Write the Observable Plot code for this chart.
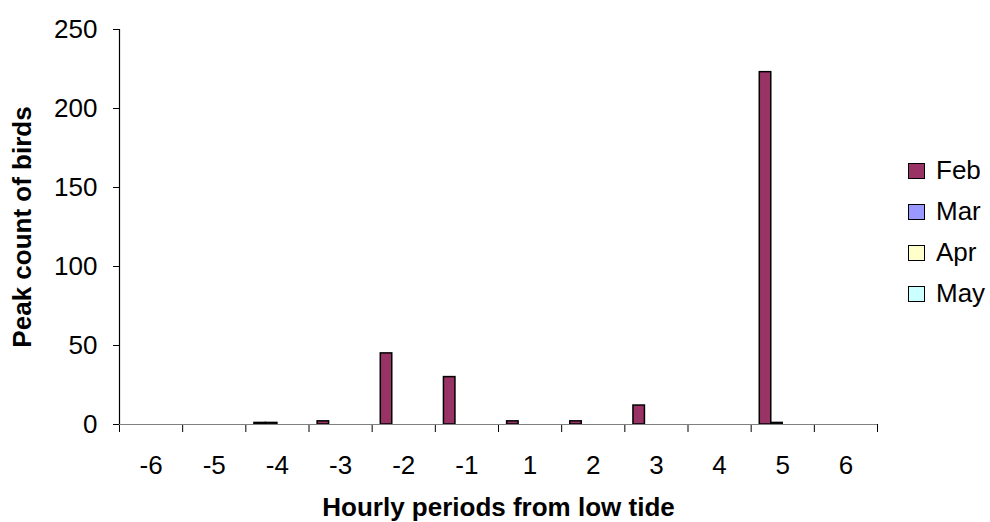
<!DOCTYPE html>
<html>
<head>
<meta charset="utf-8">
<script src="https://cdn.jsdelivr.net/npm/d3@7"></script>
<script src="https://cdn.jsdelivr.net/npm/@observablehq/plot@0.6"></script>
<style>
  body { margin: 0; background: #fff; }
  #chart { position: relative; width: 990px; height: 522px; font-family: "Liberation Sans", Arial, sans-serif; }
  #legend { position: absolute; left: 908px; top: 150px; }
  .item { display: flex; align-items: center; height: 41px; font-size: 26px; color: #000; }
  .sw { width: 17px; height: 16px; border: 1.5px solid #000; box-sizing: border-box; margin-right: 11px; }
</style>
</head>
<body>
<div id="chart"><div id="legend"></div></div>
<script>
// Hourly periods relative to low tide
const periods = ["-6", "-5", "-4", "-3", "-2", "-1", "1", "2", "3", "4", "5", "6"];
const months = ["Feb", "Mar", "Apr", "May"];
const colors = ["#993366", "#9999FF", "#FFFFCC", "#CCFFFF"];

// Peak bird counts per period, one array per month
const feb = [0, 0, 1, 2, 45, 30, 2, 2, 12, 0, 223, 0];
const mar = [0, 0, 1, 0, 0, 0, 0, 0, 0, 0, 1, 0];
const apr = [0, 0, 0, 0, 0, 0, 0, 0, 0, 0, 0, 0];
const may = [0, 0, 0, 0, 0, 0, 0, 0, 0, 0, 0, 0];
const yTicks = [0, 50, 100, 150, 200, 250];

const series = [feb, mar, apr, may];

// Grouped-bar layout: each period is one unit wide, bars separated by a 150% gap
const gap = 1.5;
const slots = months.length + gap;
const rows = periods.flatMap((p, i) =>
  series.map((vals, k) => ({ i, k, period: p, month: months[k], value: vals[i] }))
).filter(d => d.value > 0);

const chart = Plot.plot({
  width: 990,
  height: 522,
  marginLeft: 119,
  marginRight: 113,
  marginTop: 29,
  marginBottom: 98,
  style: { fontFamily: "'Liberation Sans', Arial, sans-serif", fontSize: "26px", background: "#fff" },
  x: { domain: [0, periods.length] },
  y: { domain: [0, 250] },
  color: { domain: months, range: colors },
  marks: [
    Plot.rectY(rows, {
      x1: d => d.i + (gap / 2 + d.k) / slots,
      x2: d => d.i + (gap / 2 + d.k + 1) / slots,
      y1: 0,
      y2: "value",
      fill: "month",
      stroke: "#000",
      strokeWidth: 1.5
    }),
    // category boundary ticks
    Plot.axisX(d3.range(periods.length + 1), {
      tickSize: 8, tickFormat: () => "", label: null
    }),
    // category labels, centred in each period
    Plot.axisX(d3.range(periods.length).map(i => i + 0.5), {
      tickSize: 0, tickPadding: 31, fontSize: 26,
      tickFormat: d => periods[Math.floor(d)], label: null
    }),
    Plot.axisY(yTicks, { tickSize: 6, tickPadding: 16, fontSize: 26, label: null }),
    Plot.ruleY([0], { stroke: "#808080", strokeWidth: 1.2 }),
    Plot.ruleX([0], { stroke: "#000", strokeWidth: 1.2 }),
    Plot.text(["Hourly periods from low tide"], {
      text: d => d, frameAnchor: "bottom", lineAnchor: "bottom", dy: 91,
      fontWeight: "bold", fontSize: 26
    }),
    Plot.text(["Peak count of birds"], {
      text: d => d, frameAnchor: "left", textAnchor: "middle", dx: -97, rotate: -90,
      fontWeight: "bold", fontSize: 26
    })
  ]
});

document.getElementById("chart").prepend(chart);

// Legend on the right
const legend = d3.select("#legend");
months.forEach((m, k) => {
  const item = legend.append("div").attr("class", "item");
  item.append("div").attr("class", "sw").style("background", colors[k]);
  item.append("span").text(m);
});
</script>
</body>
</html>
